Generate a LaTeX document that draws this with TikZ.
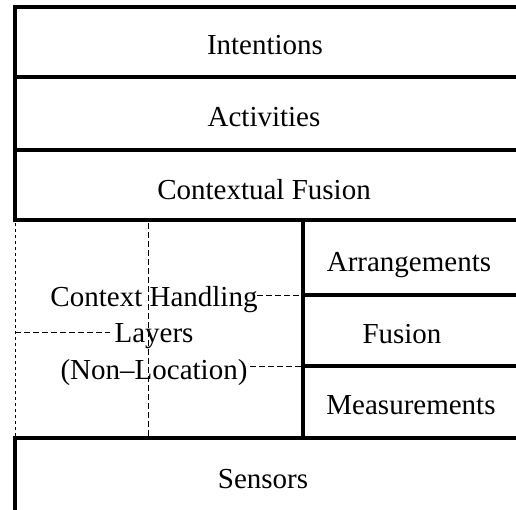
\documentclass[tikz,border=0pt]{standalone}
\usepackage{fontspec}
\setmainfont{Liberation Serif}
\begin{document}
\begin{tikzpicture}[x=1pt,y=-1pt,
  heavy/.style={line width=4pt,line cap=rect},
  dotline/.style={line width=0.8pt,dash pattern=on 3pt off 3pt},
  dashline/.style={line width=0.8pt,dash pattern=on 6pt off 3pt},
  lbl/.style={font=\fontsize{29}{35.5}\selectfont,inner sep=0pt,anchor=base}]
\useasboundingbox (0,0) rectangle (516,509);
% thick frame lines
\draw[heavy] (15,220) -- (15,7) -- (516,7);
\draw[heavy] (15,77) -- (516,77);
\draw[heavy] (15,150) -- (516,150);
\draw[heavy] (15,220) -- (516,220);
\draw[heavy] (303,220) -- (303,438);
\draw[heavy] (303,295) -- (516,295);
\draw[heavy] (303,366) -- (516,366);
\draw[heavy] (15,509) -- (15,438) -- (516,438);
% dashed internal lines
\draw[dotline] (15,223) -- (15,436);
\draw[dashline] (148,223) -- (148,436);
\draw[dashline] (257,295) -- (301,295);
\draw[dashline] (15,332) -- (110,332);
\draw[dashline] (250,366) -- (301,366);
% labels
\node[lbl] (int) at (265,54) {Intentions};
\node[lbl] (act) at (264,126) {Activities};
\node[lbl] (cf) at (264,199) {Contextual Fusion};
\node[lbl] (arr) at (409,271) {Arrangements};
\node[lbl] (fus) at (402,343) {Fusion};
\node[lbl] (mea) at (411,414) {Measurements};
\node[lbl] (sen) at (263,488) {Sensors};
\node[font=\fontsize{29}{36.5}\selectfont,inner sep=0pt,align=center,anchor=center] (chl) at (154,336) {Context Handling\\Layers\\(Non–Location)};
\end{tikzpicture}
\end{document}
